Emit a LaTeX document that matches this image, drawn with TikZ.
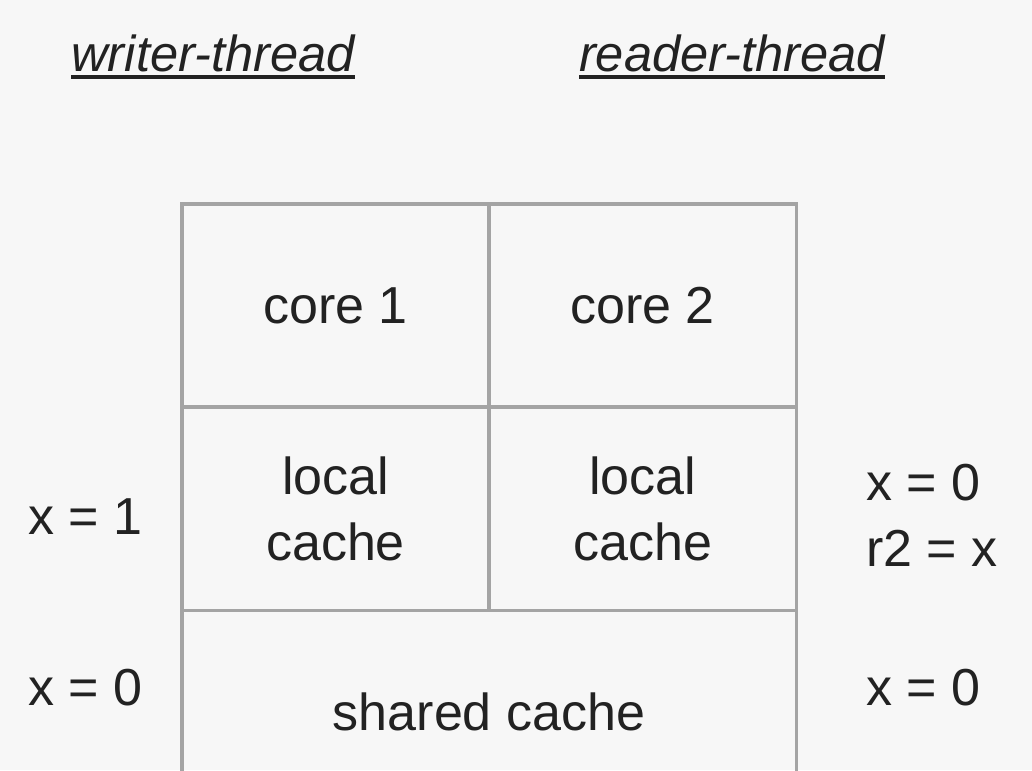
\documentclass[tikz,border=0pt]{standalone}
\usepackage{fontspec}
\setmainfont{Liberation Sans}
\usetikzlibrary{positioning}

\definecolor{paper}{HTML}{F7F7F7}
\definecolor{gridgray}{HTML}{A4A4A4}
\definecolor{ink}{HTML}{222222}

\newcommand{\bigfont}{\fontsize{37}{47}\selectfont}
\newcommand{\underlined}[1]{\vtop{\hbox{#1}\kern2.5pt\hrule height 2.6pt}}

\begin{document}
\begin{tikzpicture}[
    x=0.025cm, y=-0.025cm,
    cell/.style={draw=gridgray, line width=2.2pt, outer sep=0pt, inner sep=0pt,
        minimum width=7.675cm, minimum height=5.075cm, align=center,
        font=\bigfont, text=ink},
    wide cell/.style={cell, minimum width=15.35cm},
    value/.style={anchor=west, inner sep=0pt, align=left, font=\bigfont, text=ink},
    thread/.style={anchor=base, inner sep=0pt, font=\fontsize{36}{44}\selectfont\itshape, text=ink}
]
    \useasboundingbox[fill=paper] (0,0) rectangle (1032,770);

    % thread titles
    \node[thread] (writer) at (213,71) {\underlined{writer-thread}};
    \node[thread] (reader) at (732,71) {\underlined{reader-thread}};

    % cores and caches
    \node[cell] (core1) at (335.5,305.5) {core 1};
    \node[cell, right=0pt of core1] (core2) {core 2};
    \node[cell, below=0pt of core1] (local1) {local\\cache};
    \node[cell, below=0pt of core2] (local2) {local\\cache};
    \node[wide cell, below=0pt of local1.south east] (shared) {shared cache};

    % values of x
    \node[value] (wlocal) at (28,517) {x = 1};
    \node[value] (wshared) at (28,688) {x = 0};
    \node[value] (rlocal) at (866,515) {x = 0\\r2 = x};
    \node[value] (rshared) at (866,688) {x = 0};
\end{tikzpicture}
\end{document}
